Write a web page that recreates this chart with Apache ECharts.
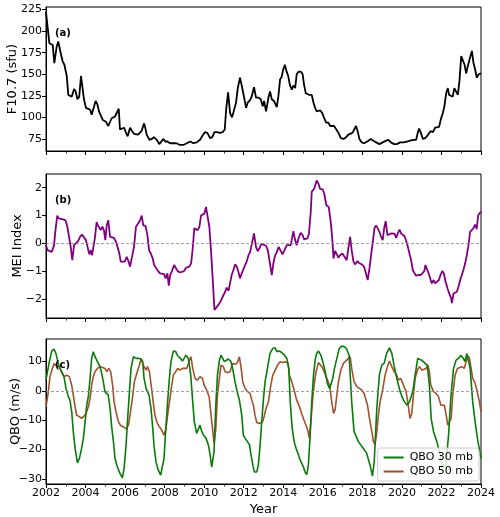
<!DOCTYPE html>
<html>
<head>
<meta charset="utf-8">
<script src="https://cdn.jsdelivr.net/npm/echarts@6/dist/echarts.min.js"></script>
<style>html,body{margin:0;padding:0;background:#fff}#c{width:500px;height:517px}</style>
</head>
<body>
<div id="c"></div>
<script>
// ---- data: [year, value] ----
const f107 = [[2002.0,222],[2002.08,205],[2002.17,186],[2002.25,188],[2002.34,184],[2002.42,163],[2002.54,182],[2002.62,188],[2002.74,175],[2002.84,165],[2002.93,161],[2003.05,148],[2003.13,126],[2003.21,128],[2003.3,124],[2003.42,133],[2003.5,130],[2003.59,121],[2003.68,124],[2003.77,148],[2003.84,148],[2003.92,121],[2004.02,111],[2004.1,109],[2004.23,109],[2004.31,103],[2004.4,105],[2004.51,119],[2004.6,115],[2004.68,107],[2004.76,109],[2004.87,97],[2004.95,98],[2005.03,95],[2005.15,90],[2005.24,90],[2005.32,99],[2005.41,99],[2005.49,101],[2005.57,101],[2005.68,110],[2005.74,86],[2005.83,84],[2005.95,88],[2006.05,82],[2006.13,78],[2006.25,88],[2006.35,84],[2006.45,81],[2006.55,82],[2006.65,80],[2006.75,78],[2006.83,84],[2006.96,93],[2007.02,88],[2007.09,80],[2007.23,74],[2007.35,75],[2007.46,77],[2007.6,74],[2007.73,69],[2007.83,71],[2007.94,75],[2008.03,72],[2008.14,72],[2008.27,70],[2008.44,70],[2008.6,70],[2008.78,68],[2008.95,68],[2009.12,70],[2009.29,72],[2009.45,70],[2009.62,71],[2009.79,74],[2009.92,79],[2010.04,83],[2010.16,82],[2010.3,76],[2010.41,77],[2010.52,83],[2010.64,83],[2010.8,82],[2010.94,83],[2011.04,86],[2011.11,109],[2011.21,129],[2011.31,105],[2011.41,100],[2011.51,101],[2011.61,117],[2011.7,134],[2011.81,146],[2011.9,137],[2012.02,123],[2012.12,111],[2012.2,117],[2012.32,120],[2012.4,124],[2012.52,135],[2012.62,123],[2012.74,123],[2012.86,121],[2012.96,113],[2013.03,119],[2013.13,107],[2013.25,123],[2013.33,130],[2013.42,121],[2013.53,119],[2013.67,112],[2013.75,124],[2013.84,144],[2013.92,147],[2013.99,155],[2014.08,161],[2014.17,153],[2014.25,148],[2014.33,138],[2014.43,132],[2014.51,137],[2014.6,134],[2014.68,150],[2014.77,153],[2014.89,153],[2014.98,150],[2015.05,138],[2015.14,128],[2015.24,129],[2015.32,126],[2015.44,126],[2015.53,117],[2015.61,111],[2015.69,107],[2015.78,105],[2015.87,108],[2015.97,105],[2016.07,99],[2016.17,94],[2016.28,94],[2016.37,90],[2016.45,90],[2016.57,90],[2016.67,88],[2016.79,82],[2016.91,76],[2017.05,75],[2017.18,77],[2017.29,80],[2017.38,78],[2017.5,82],[2017.6,84],[2017.68,90],[2017.76,84],[2017.85,75],[2017.97,71],[2018.09,70],[2018.19,71],[2018.31,73],[2018.43,75],[2018.56,73],[2018.7,71],[2018.86,69],[2019.03,71],[2019.2,73],[2019.32,74],[2019.44,71],[2019.61,69],[2019.74,69],[2019.91,71],[2020.08,71],[2020.25,72],[2020.42,73],[2020.59,74],[2020.72,74],[2020.8,82],[2020.87,87],[2020.96,82],[2021.06,75],[2021.18,76],[2021.3,79],[2021.44,84],[2021.57,83],[2021.68,88],[2021.77,90],[2021.88,89],[2021.97,98],[2022.07,105],[2022.15,113],[2022.24,128],[2022.32,134],[2022.39,126],[2022.47,126],[2022.57,124],[2022.65,134],[2022.74,132],[2022.83,126],[2022.91,142],[2023.0,171],[2023.08,173],[2023.17,161],[2023.25,151],[2023.33,159],[2023.42,167],[2023.54,177],[2023.62,163],[2023.71,155],[2023.79,146],[2023.88,150],[2024.0,151]];

const mei = [[2002.0,-0.06],[2002.08,-0.24],[2002.17,-0.18],[2002.29,-0.3],[2002.34,-0.36],[2002.41,-0.06],[2002.46,0.36],[2002.51,0.42],[2002.57,1.0],[2002.66,0.89],[2002.74,0.95],[2002.83,0.87],[2002.91,0.93],[2002.99,0.83],[2003.08,0.6],[2003.16,0.54],[2003.25,-0.12],[2003.33,-0.6],[2003.42,-0.06],[2003.52,0.0],[2003.62,0.08],[2003.72,0.24],[2003.82,0.32],[2003.92,0.27],[2004.02,0.12],[2004.12,0.06],[2004.19,-0.39],[2004.27,-0.24],[2004.33,-0.42],[2004.4,-0.36],[2004.48,0.24],[2004.56,0.77],[2004.66,0.6],[2004.77,0.48],[2004.85,0.6],[2004.93,0.48],[2005.0,0.12],[2005.07,0.65],[2005.15,0.83],[2005.24,0.24],[2005.32,0.2],[2005.44,0.2],[2005.54,0.06],[2005.61,0.0],[2005.71,-0.36],[2005.78,-0.65],[2005.88,-0.69],[2005.98,-0.65],[2006.08,-0.48],[2006.18,-0.65],[2006.25,-0.83],[2006.35,-0.48],[2006.45,-0.12],[2006.55,0.6],[2006.65,0.71],[2006.76,0.83],[2006.84,1.0],[2006.92,0.65],[2007.03,0.63],[2007.13,0.3],[2007.21,-0.24],[2007.3,-0.36],[2007.4,-0.54],[2007.47,-0.77],[2007.57,-0.75],[2007.67,-0.99],[2007.77,-1.07],[2007.87,-1.1],[2007.97,-1.1],[2008.05,-1.25],[2008.14,-1.07],[2008.21,-1.51],[2008.28,-1.13],[2008.37,-0.99],[2008.48,-0.77],[2008.58,-0.77],[2008.66,-0.99],[2008.78,-1.04],[2008.88,-0.99],[2008.98,-0.99],[2009.08,-0.87],[2009.17,-0.93],[2009.25,-0.83],[2009.34,-0.71],[2009.42,-0.18],[2009.5,0.54],[2009.59,0.54],[2009.67,0.48],[2009.76,0.6],[2009.84,1.0],[2009.93,0.95],[2010.01,1.07],[2010.09,1.31],[2010.18,1.37],[2010.26,0.6],[2010.35,-0.3],[2010.43,-1.25],[2010.52,-2.38],[2010.6,-2.35],[2010.72,-2.2],[2010.84,-2.06],[2010.94,-1.9],[2011.06,-1.73],[2011.14,-1.58],[2011.23,-1.7],[2011.31,-1.67],[2011.39,-1.13],[2011.48,-0.95],[2011.56,-0.75],[2011.65,-0.83],[2011.73,-1.01],[2011.81,-1.25],[2011.9,-1.07],[2011.98,-1.13],[2012.07,-0.77],[2012.15,-0.65],[2012.24,-0.42],[2012.32,-0.32],[2012.42,-0.27],[2012.52,0.36],[2012.62,-0.12],[2012.71,-0.27],[2012.79,-0.18],[2012.88,-0.02],[2013.0,-0.04],[2013.13,-0.08],[2013.22,-0.24],[2013.3,-0.6],[2013.42,-1.13],[2013.5,-0.71],[2013.59,-0.42],[2013.67,-0.32],[2013.77,-0.12],[2013.87,-0.18],[2013.96,-0.39],[2014.06,-0.36],[2014.18,-0.06],[2014.28,-0.12],[2014.38,-0.06],[2014.51,0.44],[2014.6,0.12],[2014.68,-0.06],[2014.77,0.18],[2014.88,0.38],[2014.98,0.3],[2015.05,0.15],[2015.13,0.08],[2015.22,0.18],[2015.3,0.36],[2015.39,1.13],[2015.44,1.85],[2015.51,1.82],[2015.56,1.96],[2015.62,1.9],[2015.69,2.26],[2015.78,2.14],[2015.86,1.96],[2015.99,1.94],[2016.07,1.79],[2016.18,1.37],[2016.3,1.31],[2016.41,0.71],[2016.49,0.06],[2016.54,-0.54],[2016.62,-0.27],[2016.71,-0.3],[2016.79,-0.51],[2016.87,-0.42],[2016.99,-0.36],[2017.09,-0.39],[2017.21,-0.6],[2017.29,-0.18],[2017.38,0.24],[2017.46,-0.24],[2017.55,-0.65],[2017.63,-0.75],[2017.75,-0.63],[2017.85,-0.71],[2017.97,-0.75],[2018.09,-0.83],[2018.19,-0.77],[2018.27,-1.31],[2018.36,-0.89],[2018.44,-0.42],[2018.53,0.06],[2018.61,0.54],[2018.69,0.65],[2018.78,0.54],[2018.86,0.42],[2018.95,0.24],[2019.03,0.12],[2019.1,0.54],[2019.18,0.8],[2019.27,0.3],[2019.37,0.24],[2019.45,0.36],[2019.54,0.32],[2019.62,0.35],[2019.71,0.2],[2019.79,0.36],[2019.88,0.5],[2019.96,0.36],[2020.05,0.3],[2020.13,0.27],[2020.22,0.08],[2020.3,-0.12],[2020.38,-0.36],[2020.48,-0.65],[2020.55,-0.95],[2020.62,-1.04],[2020.71,-1.15],[2020.84,-1.13],[2020.96,-1.13],[2021.05,-1.19],[2021.13,-0.99],[2021.19,-0.77],[2021.26,-0.92],[2021.34,-1.04],[2021.43,-1.01],[2021.51,-1.43],[2021.6,-1.31],[2021.68,-1.43],[2021.76,-1.39],[2021.87,-1.31],[2021.95,-1.13],[2022.04,-0.99],[2022.12,-1.07],[2022.21,-1.37],[2022.31,-1.61],[2022.39,-1.79],[2022.48,-1.94],[2022.53,-2.14],[2022.61,-1.79],[2022.7,-1.73],[2022.78,-1.73],[2022.86,-1.55],[2022.95,-1.31],[2023.03,-1.13],[2023.11,-0.95],[2023.2,-0.71],[2023.28,-0.42],[2023.37,-0.06],[2023.45,0.42],[2023.53,0.48],[2023.61,0.54],[2023.7,0.68],[2023.78,0.51],[2023.86,1.01],[2024.0,1.15]];

const qbo30 = [[2002.0,4],[2002.03,4.8],[2002.17,9.9],[2002.29,13.5],[2002.4,14.2],[2002.5,12.7],[2002.62,9.3],[2002.74,7.0],[2002.82,7.6],[2002.91,4.8],[2003.01,0.8],[2003.13,-2.0],[2003.21,-3.2],[2003.3,-7.1],[2003.38,-13.9],[2003.47,-19.6],[2003.59,-24.5],[2003.69,-23],[2003.8,-19.6],[2003.89,-16.2],[2003.96,-11.7],[2004.06,-4.9],[2004.14,-2.0],[2004.23,4.2],[2004.31,11],[2004.39,13.3],[2004.48,11.6],[2004.6,9.9],[2004.7,8.7],[2004.78,7.0],[2004.9,3.1],[2004.98,-0.3],[2005.07,-0.9],[2005.15,-1.5],[2005.24,-6],[2005.32,-12.2],[2005.41,-17.3],[2005.49,-23],[2005.61,-25.9],[2005.74,-28.1],[2005.86,-29.6],[2005.95,-26.4],[2006.05,-18.5],[2006.13,-9.4],[2006.22,-0.3],[2006.3,7.6],[2006.42,11.6],[2006.55,11],[2006.69,11],[2006.81,10.8],[2006.89,9.9],[2006.96,4.2],[2007.06,0.8],[2007.13,1.4],[2007.21,-1.5],[2007.31,-6],[2007.4,-12.8],[2007.46,-18.5],[2007.56,-24.1],[2007.68,-27],[2007.8,-28.7],[2007.89,-28.1],[2007.97,-23],[2008.05,-13.9],[2008.14,-4.9],[2008.24,4.2],[2008.32,9.9],[2008.44,13.5],[2008.56,13.3],[2008.66,11.9],[2008.78,11.2],[2008.9,10.1],[2009.0,11.2],[2009.08,12.1],[2009.2,11],[2009.32,5.3],[2009.42,-3.7],[2009.5,-10.5],[2009.62,-14.5],[2009.71,-14],[2009.79,-11.7],[2009.88,-13.9],[2009.96,-15],[2010.09,-16.1],[2010.21,-18.4],[2010.3,-21.8],[2010.38,-26],[2010.5,-20.6],[2010.58,-5.9],[2010.67,5.3],[2010.77,10.4],[2010.85,12.1],[2010.94,11.6],[2011.02,9.9],[2011.11,10.4],[2011.22,10.8],[2011.34,10.1],[2011.44,7.6],[2011.56,3.1],[2011.65,0.2],[2011.78,-3.2],[2011.9,-8.3],[2011.98,-15.1],[2012.07,-16.2],[2012.19,-17.3],[2012.29,-18.4],[2012.37,-21.8],[2012.46,-25.3],[2012.54,-27.6],[2012.66,-27.6],[2012.74,-25.3],[2012.83,-18.4],[2012.91,-10.5],[2013.0,-2.6],[2013.08,3.1],[2013.2,7.6],[2013.33,12.7],[2013.47,14.4],[2013.59,14.6],[2013.67,13.3],[2013.79,13.5],[2013.92,13],[2014.06,12.1],[2014.18,11],[2014.28,7.6],[2014.35,-3.7],[2014.45,-12.7],[2014.55,-17.3],[2014.65,-19.6],[2014.77,-21.8],[2014.85,-23.5],[2014.93,-24.1],[2015.02,-25.9],[2015.1,-27.6],[2015.19,-28.5],[2015.27,-25.3],[2015.36,-15.1],[2015.44,-3.7],[2015.53,5.3],[2015.61,10.4],[2015.69,12.7],[2015.78,13.5],[2015.9,12.1],[2016.0,9.9],[2016.12,6.5],[2016.23,2.5],[2016.34,0.8],[2016.4,1.9],[2016.5,4.2],[2016.59,7.6],[2016.71,11],[2016.83,14.4],[2016.96,15.2],[2017.08,15],[2017.21,14.2],[2017.33,12],[2017.46,-3.7],[2017.58,-13.9],[2017.8,-17.3],[2018.05,-19.6],[2018.22,-21.3],[2018.39,-25.3],[2018.51,-29],[2018.6,-24.1],[2018.73,-6],[2018.86,5.3],[2018.98,8.7],[2019.1,9.3],[2019.23,12.7],[2019.37,14.6],[2019.49,12.7],[2019.6,8.7],[2019.74,4.2],[2019.91,-0.3],[2020.08,-3.2],[2020.25,-4.9],[2020.38,-3.7],[2020.55,-0.3],[2020.67,5.3],[2020.8,11],[2021.0,10.4],[2021.17,9.3],[2021.28,8.7],[2021.39,1.9],[2021.48,-9.4],[2021.6,-13.9],[2021.77,-17.3],[2021.93,-21.9],[2022.1,-26],[2022.22,-25.5],[2022.36,-15],[2022.47,-2.6],[2022.61,7.6],[2022.74,10.4],[2022.86,11],[2022.98,12.1],[2023.11,11],[2023.19,9.9],[2023.28,12.7],[2023.36,12.7],[2023.45,7.6],[2023.58,-3.7],[2023.7,-10.5],[2023.82,-16.2],[2024.0,-23]];

const qbo50 = [[2002.0,-5.5],[2002.03,-4.9],[2002.12,-0.3],[2002.2,4.8],[2002.32,7.6],[2002.42,9.3],[2002.54,8.2],[2002.67,8.2],[2002.79,6.5],[2002.91,4.8],[2003.05,5.3],[2003.18,4.8],[2003.3,1.9],[2003.38,-1.5],[2003.47,-5.4],[2003.55,-8.3],[2003.69,-8.8],[2003.8,-9.4],[2003.89,-9.6],[2003.97,-8.3],[2004.06,-7.1],[2004.14,-5.4],[2004.23,-2.6],[2004.31,1.9],[2004.39,4.8],[2004.48,6.5],[2004.6,7.6],[2004.73,8.2],[2004.87,7.9],[2004.98,7.6],[2005.07,6.5],[2005.17,7.6],[2005.27,6.5],[2005.37,1.9],[2005.44,-3.7],[2005.54,-7.1],[2005.66,-10.5],[2005.78,-11.9],[2005.91,-12.2],[2006.05,-13],[2006.17,-11.7],[2006.25,-8.3],[2006.37,-2.6],[2006.47,3.1],[2006.59,5.9],[2006.72,8.7],[2006.81,10.8],[2006.92,8.7],[2007.06,7],[2007.13,8.2],[2007.23,6.5],[2007.35,0.2],[2007.43,-4.3],[2007.51,-8.3],[2007.63,-11.1],[2007.73,-11.7],[2007.85,-13.4],[2007.97,-15.1],[2008.07,-12.8],[2008.15,-8.3],[2008.27,-2.6],[2008.36,1.9],[2008.44,5.3],[2008.56,6.5],[2008.66,7.6],[2008.78,7],[2008.9,7.6],[2009.0,8.2],[2009.12,7.6],[2009.23,9.9],[2009.33,11.6],[2009.42,7.6],[2009.54,4.2],[2009.65,3.6],[2009.79,4.8],[2009.91,4.2],[2010.0,1.9],[2010.09,1.4],[2010.16,-0.3],[2010.25,-2],[2010.33,-7.1],[2010.42,-12.8],[2010.5,-17.9],[2010.59,-12.8],[2010.67,-1.5],[2010.77,4.2],[2010.85,8.7],[2010.97,8.2],[2011.06,6.5],[2011.18,6.2],[2011.31,6.5],[2011.43,9.3],[2011.56,9],[2011.68,9.6],[2011.78,11.6],[2011.87,7.6],[2011.95,3.1],[2012.07,0.8],[2012.19,-0.3],[2012.32,-0.9],[2012.41,-3.2],[2012.49,-4.9],[2012.57,-8.3],[2012.66,-10.8],[2012.78,-11.1],[2012.86,-10.5],[2012.96,-10.5],[2013.03,-8.8],[2013.13,-6],[2013.25,-3.7],[2013.37,1.9],[2013.47,5.3],[2013.59,7],[2013.71,8.7],[2013.84,9.9],[2013.97,9.6],[2014.09,9.9],[2014.18,10.1],[2014.24,9.3],[2014.31,5.3],[2014.43,3.1],[2014.55,0.2],[2014.68,-3.2],[2014.82,-5.4],[2014.93,-7.7],[2015.05,-10],[2015.15,-11.7],[2015.24,-13.4],[2015.32,-16.2],[2015.41,-9.4],[2015.49,-2.6],[2015.56,1.9],[2015.66,6.5],[2015.78,9.6],[2015.86,9.9],[2015.95,8.2],[2016.07,6.5],[2016.2,4.2],[2016.34,1.9],[2016.45,-3.7],[2016.54,-7.7],[2016.62,-6.5],[2016.71,-1.5],[2016.79,3.1],[2016.91,7],[2017.04,9.3],[2017.21,10.4],[2017.38,11.6],[2017.46,7.6],[2017.58,3.1],[2017.72,1.4],[2017.85,0.8],[2017.97,0.2],[2018.09,-0.9],[2018.19,-1.5],[2018.26,-4.9],[2018.36,-9.4],[2018.48,-13.9],[2018.56,-17.3],[2018.64,-18.3],[2018.73,-13.9],[2018.81,-8.3],[2018.9,-3.7],[2019.01,-0.3],[2019.15,5.3],[2019.27,8.2],[2019.37,10.1],[2019.49,8.2],[2019.61,6.5],[2019.74,5.3],[2019.83,3.6],[2019.94,4.2],[2020.08,1.9],[2020.21,-0.3],[2020.32,-4.9],[2020.41,-9.4],[2020.5,-7.7],[2020.58,-1.5],[2020.67,4.2],[2020.78,7],[2020.89,8.2],[2021.0,7],[2021.09,6.5],[2021.22,7.6],[2021.31,8.7],[2021.39,6.5],[2021.46,1.9],[2021.6,-0.3],[2021.73,-0.9],[2021.85,-2],[2021.97,-4.9],[2022.07,-5.4],[2022.15,-4.9],[2022.24,-8.3],[2022.32,-11.7],[2022.4,-12.2],[2022.49,-9.4],[2022.57,-1.5],[2022.69,5.3],[2022.81,7.6],[2022.91,7],[2023.03,8.2],[2023.15,7.6],[2023.25,9.9],[2023.33,11.9],[2023.42,11],[2023.5,7.6],[2023.58,4.2],[2023.67,3.1],[2023.75,1.4],[2023.84,0.8],[2023.92,-3.7],[2024.0,-7.1]];

const f107Ticks = [75, 100, 125, 150, 175, 200, 225];
const meiTicks = [-2, -1, 0, 1, 2];
const qboTicks = [-30, -20, -10, 0, 10];
const panelLabels = ['(a)', '(b)', '(c)'];
const yNames = ['F10.7 (sfu)', 'MEI Index', 'QBO (m/s)'];
const seriesNames = ['F10.7', 'MEI', 'QBO 30 mb', 'QBO 50 mb'];

const FONT = 'DejaVu Sans';
const minus = v => String(v).replace('-', '\u2212');

const grids = [
  {left: 46, right: 19, top: 7, height: 144},
  {left: 46, right: 19, top: 174, height: 144},
  {left: 46, right: 19, top: 339, height: 145}
].map(g => Object.assign(g, {show: true, borderColor: '#000', borderWidth: 1, backgroundColor: 'transparent',
  containLabel: false, outerBoundsMode: 'none'}));

function xAxis(i, showLabels) {
  return {
    type: 'value', gridIndex: i, min: 2002, max: 2024, interval: 2,
    axisLine: {show: true, onZero: false, lineStyle: {color: '#000', width: 1}},
    axisTick: {show: true, length: 4, lineStyle: {color: '#000', width: 1}},
    minorTick: {show: true, splitNumber: 2, length: 2.5, lineStyle: {color: '#000', width: 0.8}},
    splitLine: {show: false},
    axisLabel: {show: showLabels, color: '#000', fontFamily: FONT, fontSize: 11, margin: 4,
      formatter: v => String(Math.round(v))},
    name: showLabels ? 'Year' : '',
    nameLocation: 'middle', nameGap: 19, nameMoveOverlap: false,
    nameTextStyle: {color: '#000', fontFamily: FONT, fontSize: 13}
  };
}
function yAxis(i, min, max, ticks, name, gap) {
  return {
    type: 'value', gridIndex: i, min: min, max: max,
    axisLine: {show: true, onZero: false, lineStyle: {color: '#000', width: 1}},
    axisTick: {show: true, length: 4, customValues: ticks, lineStyle: {color: '#000'}},
    axisLabel: {show: true, customValues: ticks, color: '#000', fontFamily: FONT, fontSize: 11, margin: 4, formatter: minus},
    splitLine: {show: false},
    name: name, nameLocation: 'middle', nameGap: gap, nameRotate: 90, nameMoveOverlap: false,
    nameTextStyle: {color: '#000', fontFamily: FONT, fontSize: 13}
  };
}

const zeroLine = {
  silent: true, symbol: ['none', 'none'],
  label: {show: false},
  lineStyle: {color: '#888', type: [3, 2], width: 0.8},
  data: [{yAxis: 0}]
};

const option = {
  animation: false,
  backgroundColor: '#fff',
  grid: grids,
  xAxis: [xAxis(0, false), xAxis(1, false), xAxis(2, true)],
  yAxis: [
    yAxis(0, 61, 228, f107Ticks, yNames[0], 27),
    yAxis(1, -2.67, 2.49, meiTicks, yNames[1], 22),
    yAxis(2, -31.7, 17.6, qboTicks, yNames[2], 24)
  ],
  legend: {
    data: [seriesNames[2], seriesNames[3]],
    orient: 'vertical', right: 21, top: 448,
    icon: 'rect',
    backgroundColor: 'rgba(255,255,255,0.8)', borderColor: '#cccccc', borderWidth: 1, borderRadius: 3,
    padding: [4, 6, 4, 6], itemGap: 3, itemWidth: 20, itemHeight: 2,
    textStyle: {color: '#000', fontFamily: FONT, fontSize: 11, padding: [0, 0, 0, 1]}
  },
  graphic: [
    {type: 'text', left: 55, top: 28, z: 100, style: {text: panelLabels[0], font: 'bold 10px "DejaVu Sans"', fill: '#000'}},
    {type: 'text', left: 55, top: 195, z: 100, style: {text: panelLabels[1], font: 'bold 10px "DejaVu Sans"', fill: '#000'}},
    {type: 'text', left: 55, top: 360, z: 100, style: {text: panelLabels[2], font: 'bold 10px "DejaVu Sans"', fill: '#000'}}
  ],
  series: [
    {name: seriesNames[0], type: 'line', xAxisIndex: 0, yAxisIndex: 0, data: f107, symbol: 'none',
     lineStyle: {color: '#000', width: 1.8}, itemStyle: {color: '#000'}},
    {name: seriesNames[1], type: 'line', xAxisIndex: 1, yAxisIndex: 1, data: mei, symbol: 'none',
     lineStyle: {color: '#800080', width: 1.8}, itemStyle: {color: '#800080'}, markLine: zeroLine},
    {name: seriesNames[2], type: 'line', xAxisIndex: 2, yAxisIndex: 2, data: qbo30, symbol: 'none',
     lineStyle: {color: '#0a7a0a', width: 1.6}, itemStyle: {color: '#0a7a0a'}, markLine: zeroLine, z: 3},
    {name: seriesNames[3], type: 'line', xAxisIndex: 2, yAxisIndex: 2, data: qbo50, symbol: 'none',
     lineStyle: {color: '#a0522d', width: 1.6}, itemStyle: {color: '#a0522d'}, z: 2}
  ]
};

const chart = echarts.init(document.getElementById('c'), null, {renderer: 'canvas'});
chart.setOption(option);
</script>
</body>
</html>
